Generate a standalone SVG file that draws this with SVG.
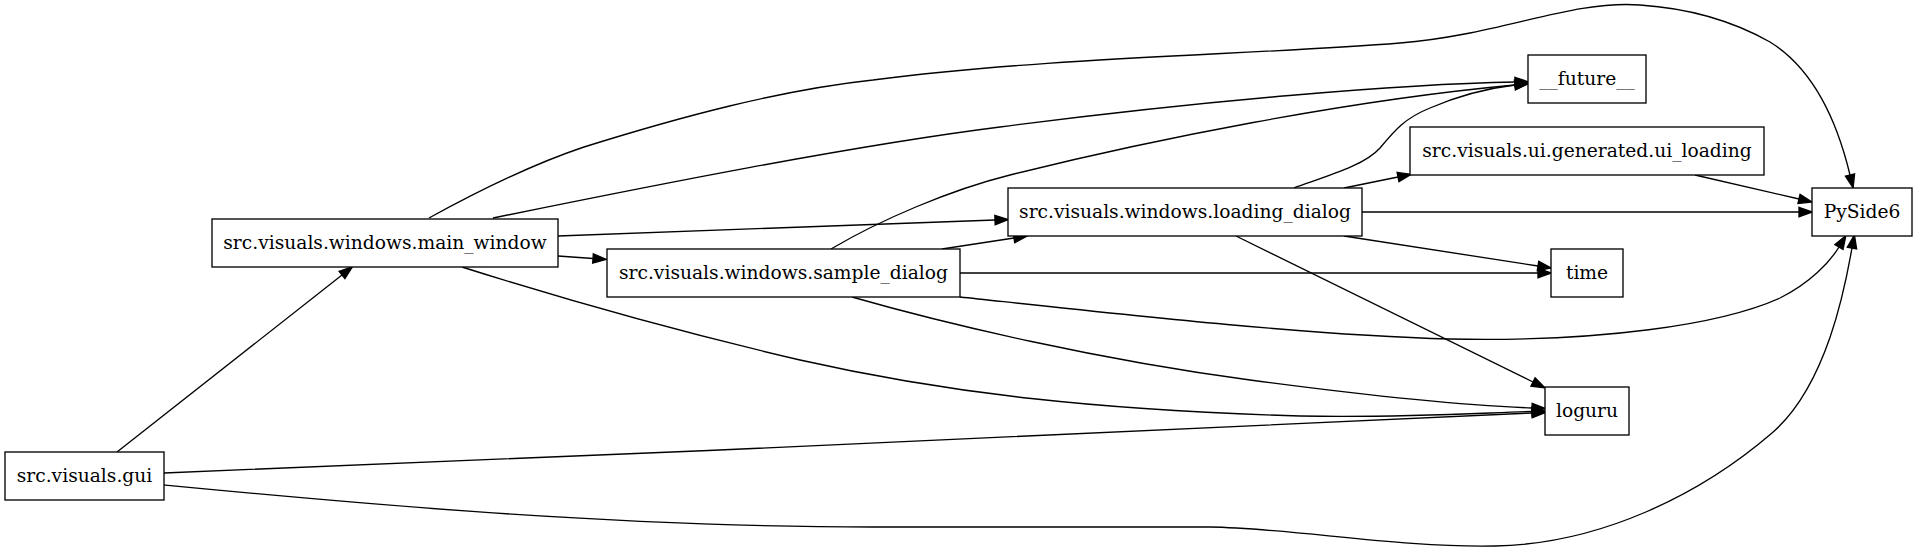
<svg xmlns="http://www.w3.org/2000/svg" width="1917" height="552" viewBox="0 0 1917 552">
<defs>
<style>
.node rect{fill:#fff;stroke:#000;stroke-width:1.33}
.node text{font-family:"DejaVu Serif","Liberation Serif",serif;font-size:18.67px;text-anchor:middle;fill:#000}
.edges path{fill:none;stroke:#000;stroke-width:1.33;marker-end:url(#arr)}
</style>
<marker id="arr" markerUnits="userSpaceOnUse" markerWidth="16" markerHeight="12" refX="0" refY="5" orient="auto" overflow="visible">
<path d="M0,0.3 L13.3,5 L0,9.7 Z" fill="#000" stroke="#000" stroke-width="1.33"/>
</marker>
</defs>
<rect width="1917" height="552" fill="#fff"/>
<g id="edges" class="edges">
<path d="M117,452 L342,275"/>
<path d="M164,473 C 600,458 1200,426 1532,413"/>
<path d="M164,485 C 320,500 600,527 873,527 L 1210,527 C 1290,528 1400,548 1495,546 C 1600,544 1700,495 1772,433 C 1830,383 1847,275 1852,248"/>
<path d="M429,218 C 480,190 530,165 584,147 C 680,117 780,90 873,80 C 1050,57 1250,55 1400,43 C 1500,35 1570,0 1640,5 C 1700,9 1740,25 1770,42 C 1815,70 1838,125 1850,175"/>
<path d="M493,218 C 650,186 850,146 1000,127 C 1200,101 1400,84 1515,82"/>
<path d="M558,236 L995,220"/>
<path d="M558,256 L593,258.5"/>
<path d="M462,267 C 560,298 680,332 800,360 C 950,394 1100,410 1300,416 C 1400,418 1480,413 1532,411.5"/>
<path d="M831,249 C 880,220 950,190 1010,175 C 1150,140 1350,100 1515,85"/>
<path d="M942,249 L1014,238"/>
<path d="M960,273 L1538,273"/>
<path d="M852,297 C 950,325 1100,360 1250,380 C 1400,400 1480,406 1532,408"/>
<path d="M960,297 C 1100,312 1300,335 1450,339 C 1600,342 1720,325 1780,298 C 1810,283 1830,262 1839,247"/>
<path d="M1294,188 C 1330,175 1365,165 1380,148 C 1395,130 1405,118 1430,108 C 1460,95 1490,88 1515,85"/>
<path d="M1344,188 L1398,177"/>
<path d="M1362,212 L1799,212"/>
<path d="M1344,236 L1538,266"/>
<path d="M1236,236 L1533,382"/>
<path d="M1695,175 L1799,199"/>
</g>
<g id="gui" class="node"><rect x="5" y="452" width="159" height="48"/><text x="84.5" y="482">src.visuals.gui</text></g>
<g id="main_window" class="node"><rect x="212" y="219" width="346" height="48"/><text x="385" y="249">src.visuals.windows.main_window</text></g>
<g id="sample_dialog" class="node"><rect x="607" y="249" width="353" height="48"/><text x="783.5" y="279">src.visuals.windows.sample_dialog</text></g>
<g id="loading_dialog" class="node"><rect x="1008" y="188" width="354" height="48"/><text x="1185" y="218">src.visuals.windows.loading_dialog</text></g>
<g id="future" class="node"><rect x="1528" y="55" width="118" height="48"/><text x="1587" y="85">__future__</text></g>
<g id="ui_loading" class="node"><rect x="1410" y="127" width="354" height="48"/><text x="1587" y="157">src.visuals.ui.generated.ui_loading</text></g>
<g id="PySide6" class="node"><rect x="1812" y="188" width="100" height="48"/><text x="1862" y="218">PySide6</text></g>
<g id="time" class="node"><rect x="1551" y="249" width="72" height="48"/><text x="1587" y="279">time</text></g>
<g id="loguru" class="node"><rect x="1545" y="387" width="84" height="48"/><text x="1587" y="417">loguru</text></g>
</svg>
